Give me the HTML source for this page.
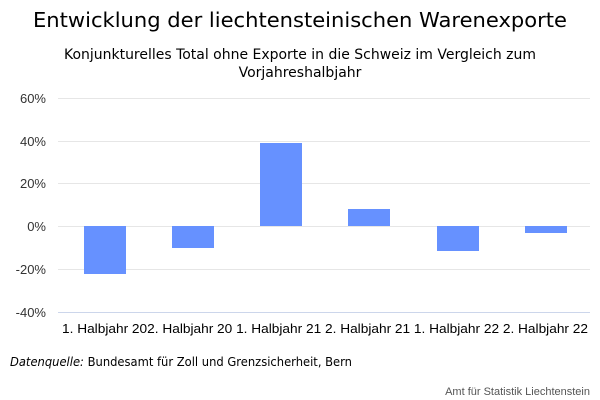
<!DOCTYPE html>
<html><head><meta charset="utf-8"><style>body{margin:0;background:#fff}svg{display:block}</style></head>
<body>
<svg width="600" height="400" xmlns="http://www.w3.org/2000/svg" font-family="DejaVu Sans, Liberation Sans, sans-serif">
<rect width="600" height="400" fill="#fff"/>
<text x="33" y="27" font-size="20" fill="#000" textLength="534" lengthAdjust="spacingAndGlyphs">Entwicklung der liechtensteinischen Warenexporte</text>
<text x="64" y="59" font-size="14" fill="#000" textLength="472" lengthAdjust="spacingAndGlyphs">Konjunkturelles Total ohne Exporte in die Schweiz im Vergleich zum</text>
<text x="300" y="77" text-anchor="middle" font-size="14" fill="#000">Vorjahreshalbjahr</text>
<g stroke="#e6e6e6" stroke-width="1">
<line x1="58" x2="590" y1="98.5" y2="98.5"/>
<line x1="58" x2="590" y1="141.5" y2="141.5"/>
<line x1="58" x2="590" y1="183.5" y2="183.5"/>
<line x1="58" x2="590" y1="226.5" y2="226.5"/>
<line x1="58" x2="590" y1="269.5" y2="269.5"/>
</g>
<line x1="58" x2="590" y1="312.5" y2="312.5" stroke="#ccd6eb"/>
<g font-size="13" fill="#333" text-anchor="end" font-family="Liberation Sans, sans-serif">
<text x="46" y="103">60%</text>
<text x="46" y="146">40%</text>
<text x="46" y="188">20%</text>
<text x="46" y="231">0%</text>
<text x="46" y="274">-20%</text>
<text x="46" y="317">-40%</text>
</g>
<g fill="#6691ff">
<rect x="84" y="226" width="42" height="48"/>
<rect x="172" y="226" width="42" height="22"/>
<rect x="260" y="143" width="42" height="83"/>
<rect x="348" y="209" width="42" height="17"/>
<rect x="437" y="226" width="42" height="25"/>
<rect x="525" y="226" width="42" height="7"/>
</g>
<text x="62" y="333" font-size="13" fill="#000" font-family="Liberation Sans, sans-serif" textLength="526" lengthAdjust="spacingAndGlyphs">1. Halbjahr 202. Halbjahr 20 1. Halbjahr 21 2. Halbjahr 21 1. Halbjahr 22 2. Halbjahr 22</text>
<text x="10" y="366" font-size="12" fill="#000" textLength="342" lengthAdjust="spacingAndGlyphs"><tspan font-style="italic">Datenquelle:</tspan> Bundesamt für Zoll und Grenzsicherheit, Bern</text>
<text x="590" y="395" text-anchor="end" font-size="11" fill="#555" font-family="Liberation Sans, sans-serif">Amt für Statistik Liechtenstein</text>
</svg>
</body></html>
